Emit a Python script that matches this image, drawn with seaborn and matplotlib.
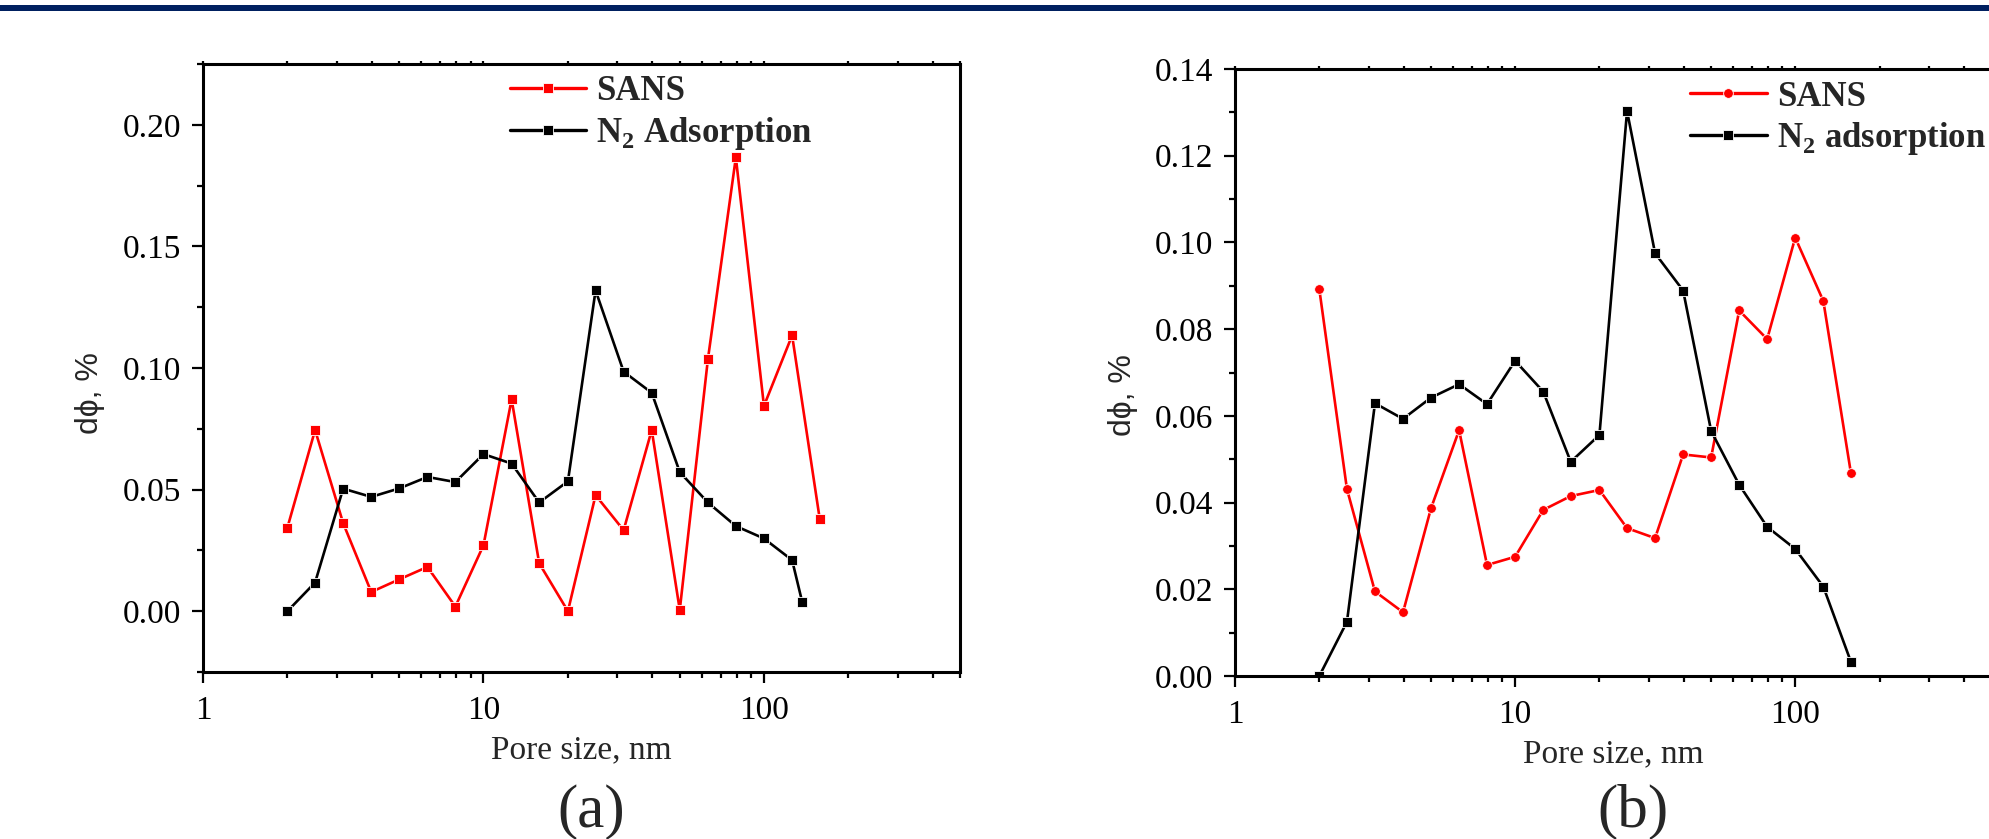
import matplotlib
matplotlib.use("Agg")
import matplotlib.pyplot as plt
import seaborn as sns
import pandas as pd
from matplotlib.patches import Rectangle
from matplotlib.ticker import FixedLocator, LogLocator, NullFormatter, MultipleLocator, FormatStrFormatter

# ---------------- data ----------------
pore_size = [2.0, 2.51, 3.16, 3.98, 5.01, 6.31, 7.94, 10.0, 12.6, 15.8,
             20.0, 25.1, 31.6, 39.8, 50.1, 63.1, 79.4, 100.0, 126.0, 158.0]
pore_size_n2_a = [2.0, 2.51, 3.16, 3.98, 5.01, 6.31, 7.94, 10.0, 12.6, 15.8,
                  20.0, 25.1, 31.6, 39.8, 50.1, 63.1, 79.4, 100.0, 126.0, 137.0]

sans_a = [0.0344, 0.0745, 0.0362, 0.0079, 0.0131, 0.0182, 0.0019, 0.0271, 0.0871, 0.0197,
          0.0000, 0.0477, 0.0333, 0.0745, 0.0005, 0.1035, 0.1866, 0.0844, 0.1134, 0.0381]
n2_a = [0.0000, 0.0118, 0.0504, 0.0470, 0.0505, 0.0552, 0.0531, 0.0646, 0.0607, 0.0447,
        0.0534, 0.1319, 0.0985, 0.0898, 0.0572, 0.0447, 0.0350, 0.0299, 0.0210, 0.0036]

sans_b = [0.0892, 0.0431, 0.0195, 0.0147, 0.0387, 0.0567, 0.0256, 0.0275, 0.0383, 0.0415,
          0.0429, 0.0341, 0.0318, 0.0511, 0.0504, 0.0843, 0.0777, 0.1011, 0.0865, 0.0469]
n2_b = [0.0000, 0.0125, 0.0629, 0.0593, 0.0642, 0.0673, 0.0627, 0.0727, 0.0656, 0.0494,
        0.0556, 0.1303, 0.0975, 0.0889, 0.0565, 0.0441, 0.0344, 0.0293, 0.0206, 0.0033]

x_ticks = [1, 10, 100]
x_ticklabels = ["1", "10", "100"]
panel_labels = ["(a)", "(b)"]
legend_a = ["SANS", r"N$_\mathbf{2}$ Adsorption"]
legend_b = ["SANS", r"N$_\mathbf{2}$ adsorption"]
xlabel = "Pore size, nm"
ylabel = "d\u03d5, %"

# ---------------- style ----------------
sns.set_style("ticks")
plt.rcParams["font.family"] = ["Liberation Serif", "DejaVu Serif"]
plt.rcParams["mathtext.fontset"] = "custom"
plt.rcParams["mathtext.rm"] = "Liberation Serif:bold"
plt.rcParams["mathtext.bf"] = "Liberation Serif:bold"

RED = "#ff0000"
BLACK = "#000000"
TICK_FS = 24
LEG_FS = 25

fig = plt.figure(figsize=(19.9, 8.39), dpi=100)
fig.patch.set_facecolor("white")

# top navy band
fig.patches.append(Rectangle((0, (839 - 11) / 839), 1, 6 / 839, transform=fig.transFigure,
                             facecolor="#002060", edgecolor="none", zorder=10))

ax_a = fig.add_axes([203 / 1990, (839 - 672) / 839, 757 / 1990, 608 / 839])
ax_b = fig.add_axes([1235 / 1990, (839 - 676) / 839, 756 / 1990, 607 / 839])

df_a_s = pd.DataFrame({"x": pore_size, "y": sans_a})
df_a_n = pd.DataFrame({"x": pore_size_n2_a, "y": n2_a})
df_b_s = pd.DataFrame({"x": pore_size, "y": sans_b})
df_b_n = pd.DataFrame({"x": pore_size, "y": n2_b})

line_kw = dict(linewidth=1.9, markersize=7, markeredgecolor="white", markeredgewidth=0.6)

sns.lineplot(data=df_a_s, x="x", y="y", ax=ax_a, color=RED, marker="s", label=legend_a[0], **line_kw)
sns.lineplot(data=df_a_n, x="x", y="y", ax=ax_a, color=BLACK, marker="s", label=legend_a[1], **line_kw)
sns.lineplot(data=df_b_s, x="x", y="y", ax=ax_b, color=RED, marker="o", label=legend_b[0], **line_kw)
sns.lineplot(data=df_b_n, x="x", y="y", ax=ax_b, color=BLACK, marker="s", label=legend_b[1], **line_kw)

for ax, ylim, ymaj, ymin in [(ax_a, (-0.025, 0.225), 0.05, 0.025),
                             (ax_b, (0.0, 0.14), 0.02, 0.01)]:
    ax.set_xscale("log")
    ax.set_xlim(1, 500)
    ax.set_ylim(*ylim)
    ax.xaxis.set_major_locator(FixedLocator(x_ticks))
    ax.set_xticklabels(x_ticklabels)
    ax.xaxis.set_minor_locator(LogLocator(base=10, subs=(2, 3, 4, 5, 6, 7, 8, 9)))
    ax.xaxis.set_minor_formatter(NullFormatter())
    ax.yaxis.set_major_locator(MultipleLocator(ymaj))
    ax.yaxis.set_minor_locator(MultipleLocator(ymin))
    ax.yaxis.set_major_formatter(FormatStrFormatter("%.2f"))
    ax.tick_params(axis="both", which="major", direction="out", length=8, width=1.6,
                   labelsize=TICK_FS, color=BLACK, labelcolor=BLACK)
    ax.tick_params(axis="both", which="minor", direction="out", length=4, width=1.6, color=BLACK)
    ax.tick_params(axis="x", which="major", pad=9)
    ax.tick_params(axis="y", which="major", pad=8)
    ax.tick_params(axis="x", which="both", top=True)
    for sp in ax.spines.values():
        sp.set_linewidth(2.2)
        sp.set_color(BLACK)
        sp.set_visible(True)
    ax.set_xlabel(xlabel, fontsize=TICK_FS, labelpad=6)
    ax.set_ylabel(ylabel, fontsize=23, family=["Liberation Sans", "DejaVu Sans"])
    ax.grid(False)

# top-axis ticks are tiny marks in the reference
for ax in (ax_a, ax_b):
    for t in ax.xaxis.get_major_ticks() + ax.xaxis.get_minor_ticks():
        t.tick2line.set_markersize(2)

ax_a.yaxis.set_label_coords(-0.129, 0.459)
ax_b.yaxis.set_label_coords(-0.128, 0.463)

leg_kw = dict(loc="upper left", frameon=False, borderpad=0, borderaxespad=0,
              handlelength=2.2, handletextpad=0.3, labelspacing=0.2,
              prop={"family": "Liberation Serif", "weight": "bold", "size": LEG_FS})
leg_a = ax_a.legend(bbox_to_anchor=(0.405, 0.982), **leg_kw)
leg_b = ax_b.legend(bbox_to_anchor=(0.602, 0.981), **leg_kw)
for leg in (leg_a, leg_b):
    for h in leg.legend_handles:
        h.set_linewidth(2.4)

fig.text(591 / 1990, 12 / 839, panel_labels[0], fontsize=44, ha="center", va="baseline",
         family="Liberation Serif")
fig.text(1633 / 1990, 12 / 839, panel_labels[1], fontsize=44, ha="center", va="baseline",
         family="Liberation Serif")

fig.savefig("out.png", dpi=100, facecolor="white")
